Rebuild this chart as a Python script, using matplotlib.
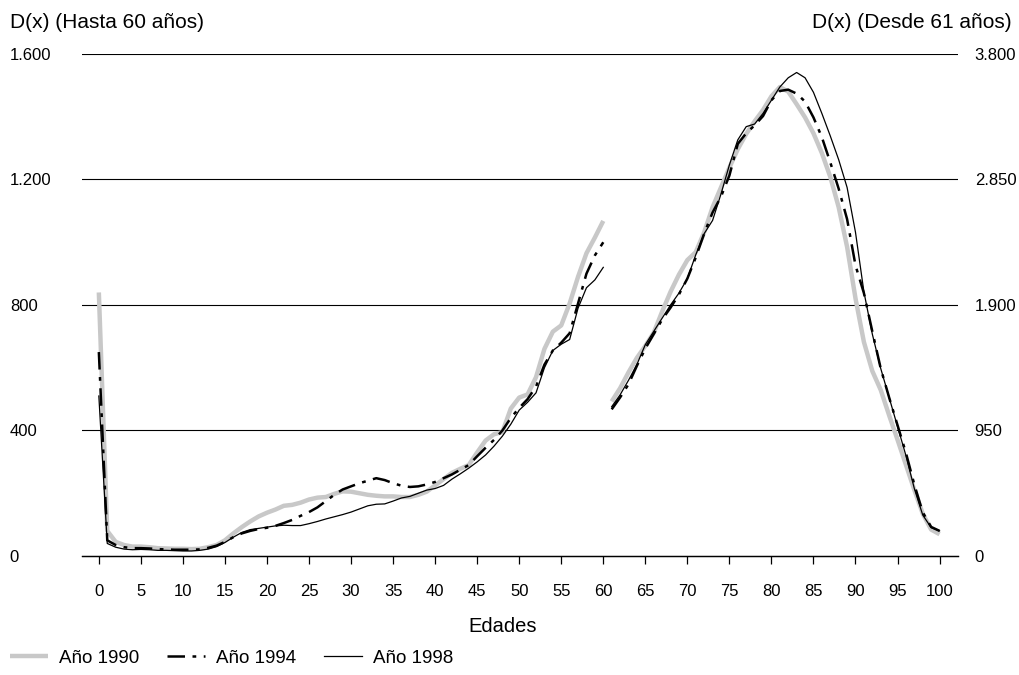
import matplotlib
matplotlib.use('Agg')
from matplotlib import pyplot as plt

plt.rcParams['font.family'] = ['Liberation Sans', 'DejaVu Sans']

ages_young = list(range(0, 61))
ages_old = list(range(61, 101))

# D(x) hasta 60 anos (eje izquierdo)
d1990_young = [840, 80, 45, 35, 30, 30, 28, 25, 24, 23,
               23, 22, 23, 28, 35, 50, 72, 92, 110, 126,
               138, 148, 160, 163, 170, 180, 186, 188, 198, 206,
               205, 200, 195, 192, 190, 190, 188, 188, 195, 205,
               225, 245, 265, 278, 290, 330, 368, 388, 395, 470,
               505, 515, 570, 660, 715, 735, 805, 890, 965, 1015,
               1068]
d1994_young = [650, 50, 35, 28, 25, 25, 24, 22, 21, 20,
               20, 20, 21, 26, 33, 45, 60, 72, 80, 86,
               90, 96, 105, 115, 128, 140, 155, 175, 195, 212,
               222, 232, 240, 248, 242, 232, 224, 220, 222, 228,
               236, 248, 260, 275, 290, 318, 345, 370, 400, 440,
               472, 500, 540, 610, 655, 680, 710, 805, 900, 958,
               1000]
d1998_young = [510, 40, 28, 22, 20, 21, 20, 18, 18, 17,
               16, 16, 18, 22, 30, 43, 60, 75, 84, 88,
               92, 96, 98, 97, 97, 103, 110, 118, 125, 132,
               140, 150, 160, 165, 166, 175, 185, 190, 200, 210,
               215, 225, 245, 262, 280, 300, 322, 350, 382, 420,
               465, 490, 520, 600, 655, 675, 690, 790, 855, 880,
               920]

# D(x) desde 61 anos (eje derecho)
d1990_old = [1170, 1270, 1390, 1500, 1590, 1690, 1850, 2000, 2130, 2240,
             2300, 2450, 2640, 2790, 2940, 3080, 3195, 3290, 3376, 3480,
             3550, 3515, 3420, 3320, 3200, 3050, 2870, 2640, 2340, 1950,
             1620, 1400, 1257, 1065, 880, 690, 500, 320, 200, 165]
d1994_old = [1110, 1200, 1300, 1440, 1570, 1680, 1790, 1880, 1980, 2100,
             2260, 2440, 2600, 2720, 2880, 3120, 3200, 3260, 3330, 3450,
             3520, 3530, 3500, 3440, 3320, 3170, 2980, 2780, 2550, 2200,
             1990, 1700, 1420, 1200, 990, 780, 540, 330, 220, 190]
d1998_old = [1130, 1220, 1330, 1450, 1600, 1700, 1800, 1900, 1990, 2100,
             2280, 2440, 2540, 2740, 2960, 3150, 3250, 3270, 3350, 3450,
             3550, 3620, 3660, 3620, 3510, 3350, 3180, 3000, 2790, 2450,
             2000, 1680, 1420, 1200, 980, 760, 510, 310, 215, 190]

left_ticks = [0, 400, 800, 1200, 1600]
left_labels = ['0', '400', '800', '1.200', '1.600']
right_ticks = [0, 950, 1900, 2850, 3800]
right_labels = ['0', '950', '1.900', '2.850', '3.800']
x_ticks = list(range(0, 101, 5))

gray_style = dict(color='#c8c8c8', lw=3.2, solid_capstyle='butt')
dash_style = dict(color='black', lw=1.8, dashes=(7, 3, 1.5, 3))
thin_style = dict(color='black', lw=0.9)

fig = plt.figure(figsize=(10.19, 6.75), dpi=100)
ax = fig.add_axes([0.0805, 0.1763, 0.8597, 0.7437])
ax2 = ax.twinx()

for y in left_ticks[1:]:
    ax.axhline(y, color='black', lw=0.8, zorder=0)

ax.plot(ages_young, d1990_young, label='Año 1990', **gray_style)
ax.plot(ages_young, d1994_young, label='Año 1994', **dash_style)
ax.plot(ages_young, d1998_young, label='Año 1998', **thin_style)
ax2.plot(ages_old, d1990_old, **gray_style)
ax2.plot(ages_old, d1994_old, **dash_style)
ax2.plot(ages_old, d1998_old, **thin_style)

ax.set_xlim(-2.0, 102.2)
ax.set_ylim(0, 1600)
ax2.set_ylim(0, 3800)

for a in (ax, ax2):
    for s in ('top', 'left', 'right'):
        a.spines[s].set_visible(False)
    a.spines['bottom'].set_color('black')
    a.spines['bottom'].set_linewidth(0.9)

ax.set_xticks(x_ticks)
ax.tick_params(axis='x', length=6, width=0.9, direction='out', labelsize=12, pad=14)

ax.set_yticks(left_ticks)
ax.set_yticklabels(left_labels)
ax.tick_params(axis='y', length=0, labelsize=12, pad=52)
for t in ax.get_yticklabels():
    t.set_horizontalalignment('left')

ax2.set_yticks(right_ticks)
ax2.set_yticklabels(right_labels)
ax2.tick_params(axis='y', length=0, labelsize=12, pad=12)

fig.text(503 / 1019, 1 - 626 / 675, 'Edades', fontsize=14.5, ha='center', va='center')
fig.text(10 / 1019, 1 - 22 / 675, 'D(x) (Hasta 60 años)', fontsize=15, ha='left', va='center')
fig.text(1012 / 1019, 1 - 22 / 675, 'D(x) (Desde 61 años)', fontsize=15, ha='right', va='center')

handles, labels = ax.get_legend_handles_labels()
fig.legend(handles, labels, loc='lower left', bbox_to_anchor=(10 / 1019, 0.012), ncol=3,
           frameon=False, fontsize=13.5, handlelength=2.0, columnspacing=1.5,
           handletextpad=0.6, borderpad=0, borderaxespad=0)

fig.savefig('out.png', dpi=100)
